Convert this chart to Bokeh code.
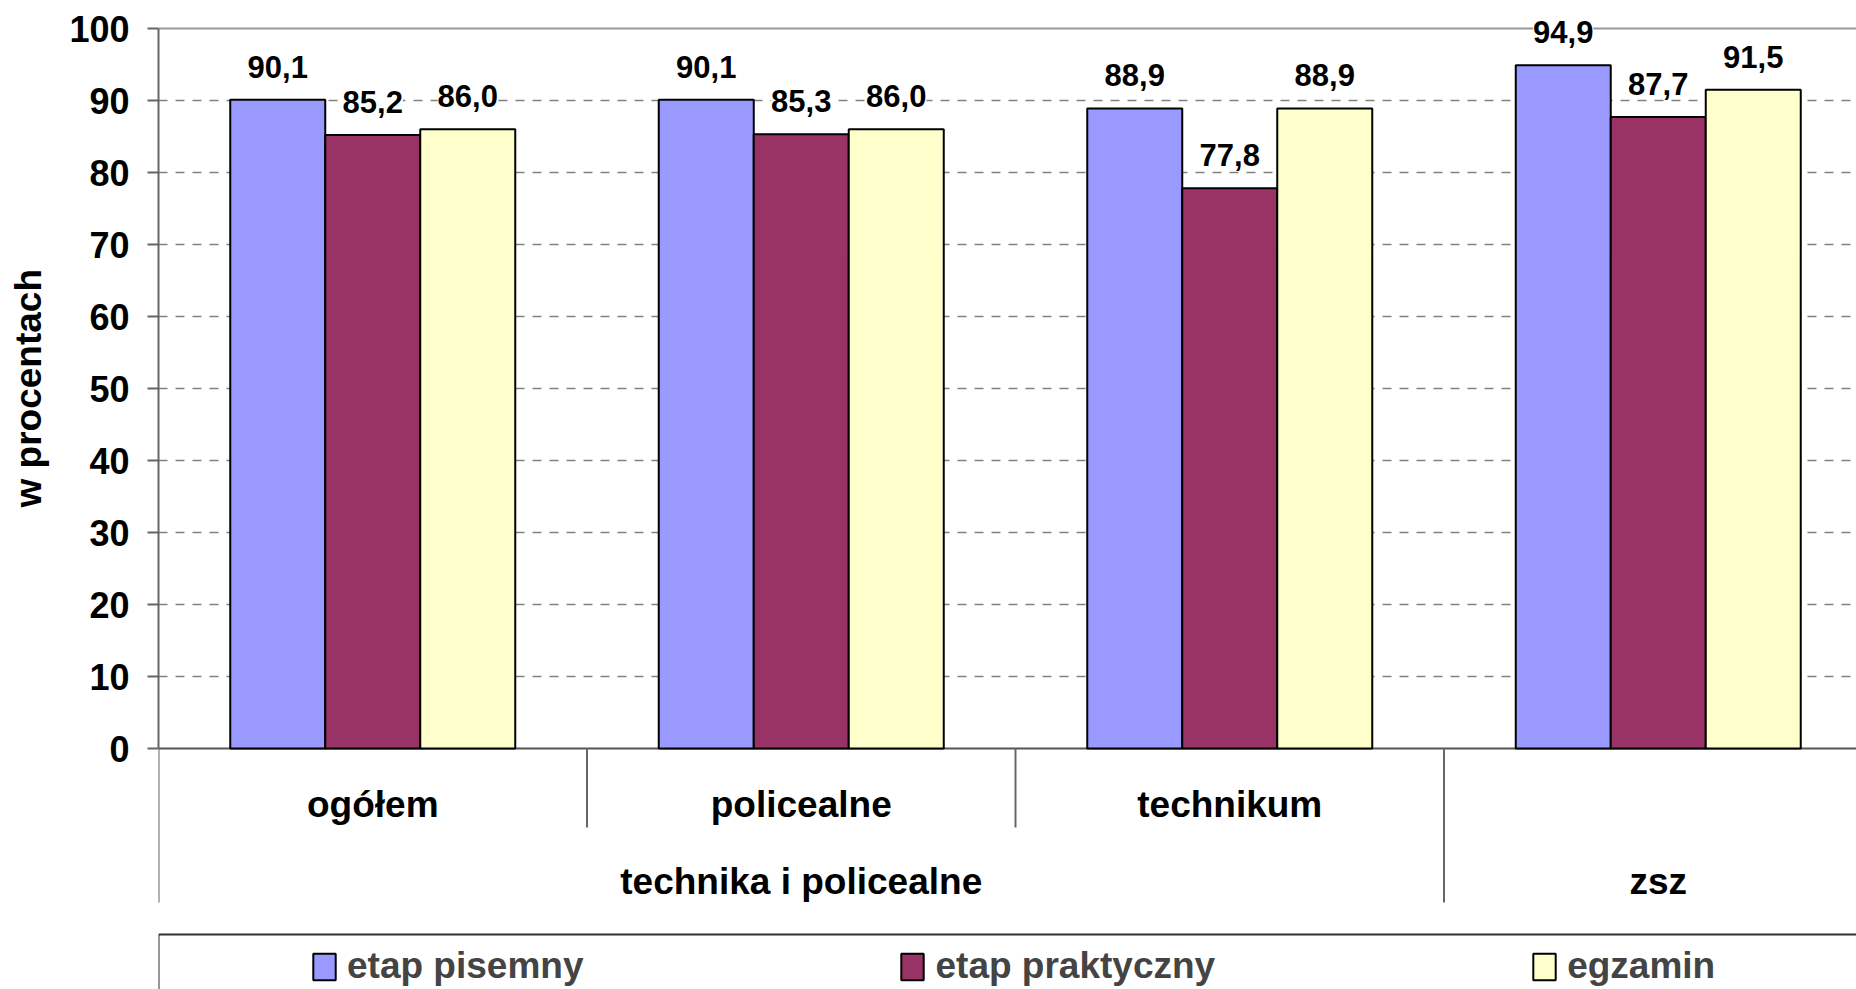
from bokeh.plotting import figure
from bokeh.models import Range1d, FixedTicker, Span, Legend, LegendItem, ColumnDataSource, Title
from bokeh.core.properties import value
from bokeh.embed import file_html
from bokeh.resources import INLINE

# ---- data ----
categories = ["ogółem", "policealne", "technikum", ""]
groups = ["technika i policealne", "zsz"]
group_spans = [(0, 3), (3, 4)]
series = ["etap pisemny", "etap praktyczny", "egzamin"]
pisemny = [90.1, 90.1, 88.9, 94.9]
praktyczny = [85.2, 85.3, 77.8, 87.7]
egzamin = [86.0, 86.0, 88.9, 91.5]
colors = ["#9999FF", "#993366", "#FFFFCC"]
y_ticks = [0, 10, 20, 30, 40, 50, 60, 70, 80, 90, 100]
y_title = "w procentach"

# ---- layout (pixels) ----
W, H = 1856, 989
FL = 158            # frame left (y axis)
Y0 = 748            # pixel row of value 0
Y100 = 28           # pixel row of value 100
PPU = (Y0 - Y100) / 100.0
CAT_PX = 428.5
BW = 95 / CAT_PX
FONT = "Liberation Sans"

x_end = (W - FL) / CAT_PX
y_end = 100 + Y100 / PPU
y_start = -(H - Y0) / PPU
sep_short = -(827 - Y0) / PPU
sep_long = -(902 - Y0) / PPU
legend_top = -(934 - Y0) / PPU

p = figure(width=W, height=H, x_range=Range1d(0, x_end), y_range=Range1d(y_start, y_end),
           output_backend="svg", toolbar_location=None, x_axis_location=None,
           min_border_left=FL, min_border_right=0, min_border_top=0, min_border_bottom=0,
           outline_line_color=None, background_fill_color="white", border_fill_color="white")

# grid
p.ygrid.ticker = FixedTicker(ticks=y_ticks[1:-1])
p.ygrid.grid_line_color = "#808080"
p.ygrid.grid_line_dash = "9 8"
p.ygrid.grid_line_width = 1.5
p.xgrid.visible = False

p.add_layout(Span(location=y_ticks[-1], dimension="width", line_color="#999999", line_width=2, level="underlay"))
p.add_layout(Span(location=0, dimension="width", line_color="#555555", line_width=2, level="underlay"))

# y axis
ax = p.yaxis[0]
ax.ticker = FixedTicker(ticks=y_ticks)
ax.bounds = (y_ticks[0], y_ticks[-1])
ax.major_tick_out = 11
ax.major_tick_in = 0
ax.minor_tick_out = 0
ax.minor_tick_in = 0
ax.axis_line_color = "#666666"
ax.axis_line_width = 2
ax.major_tick_line_color = "#666666"
ax.major_tick_line_width = 2
ax.major_label_text_font = FONT
ax.major_label_text_font_style = "bold"
ax.major_label_text_font_size = "36px"
ax.major_label_text_color = "black"
ax.major_label_standoff = 18
# invisible spacer label: pushes the title a few pixels further left
ax.axis_label = " "
ax.axis_label_text_font_size = "1px"
ax.axis_label_standoff = 9

# axis title, starting so that it is centred on the 0..100 part of the axis
title_len = 238
title_offset = (H - (Y0 + Y100) / 2.0) - title_len / 2.0
p.add_layout(Title(text=y_title, align="left", offset=title_offset,
                   standoff=10, text_font=FONT, text_font_style="bold",
                   text_font_size="37px", text_color="black"), "left")

# bars + labels
offsets = [-BW, 0.0, BW]
renderers = []
for k, (vals, col) in enumerate(zip([pisemny, praktyczny, egzamin], colors)):
    xs = [i + 0.5 + offsets[k] for i in range(len(vals))]
    src = ColumnDataSource(dict(x=xs, top=vals,
                                label=[f"{v:.1f}".replace(".", ",") for v in vals]))
    r = p.vbar(x="x", top="top", bottom=0, width=BW, source=src,
               fill_color=col, line_color="black", line_width=2)
    renderers.append(r)
    p.text(x="x", y="top", text="label", source=src, text_align="center",
           text_baseline="alphabetic", y_offset=-33, text_color="black",
           text_font=value(FONT), text_font_style="bold", text_font_size="31px",
           background_fill_color="white")

# category axis (manual)
bounds = list(range(1, len(categories)))
group_edges = [g[0] for g in group_spans[1:]]
sx = bounds + [0]
sy1 = [sep_long if b in group_edges else sep_short for b in bounds] + [sep_long]
p.segment(x0=sx, y0=[0] * len(sx), x1=sx, y1=sy1, line_color="#666666", line_width=2)

p.text(x=[i + 0.5 for i in range(len(categories))], y=[0] * len(categories), text=categories,
       y_offset=56, text_align="center", text_baseline="alphabetic", text_color="black",
       text_font=value(FONT), text_font_style="bold", text_font_size="37px")
p.text(x=[(a + b) / 2 for a, b in group_spans], y=[0] * len(groups), text=groups,
       y_offset=133, text_align="center", text_baseline="alphabetic", text_color="black",
       text_font=value(FONT), text_font_style="bold", text_font_size="37px")

# legend box lines
p.segment(x0=[0, 0], y0=[legend_top, legend_top], x1=[x_end, 0], y1=[legend_top, y_start],
          line_color="#333333", line_width=2)

legend = Legend(items=[LegendItem(label=n, renderers=[r]) for n, r in zip(series, renderers)],
                orientation="horizontal", location=(152, 2), spacing=315,
                glyph_width=28, glyph_height=33, label_standoff=9, label_height=32,
                label_text_font=FONT, label_text_font_style="bold", label_text_font_size="37px",
                padding=0, margin=0, border_line_color=None, background_fill_alpha=0)
p.add_layout(legend)

open("out.html", "w").write(file_html(p, INLINE))
